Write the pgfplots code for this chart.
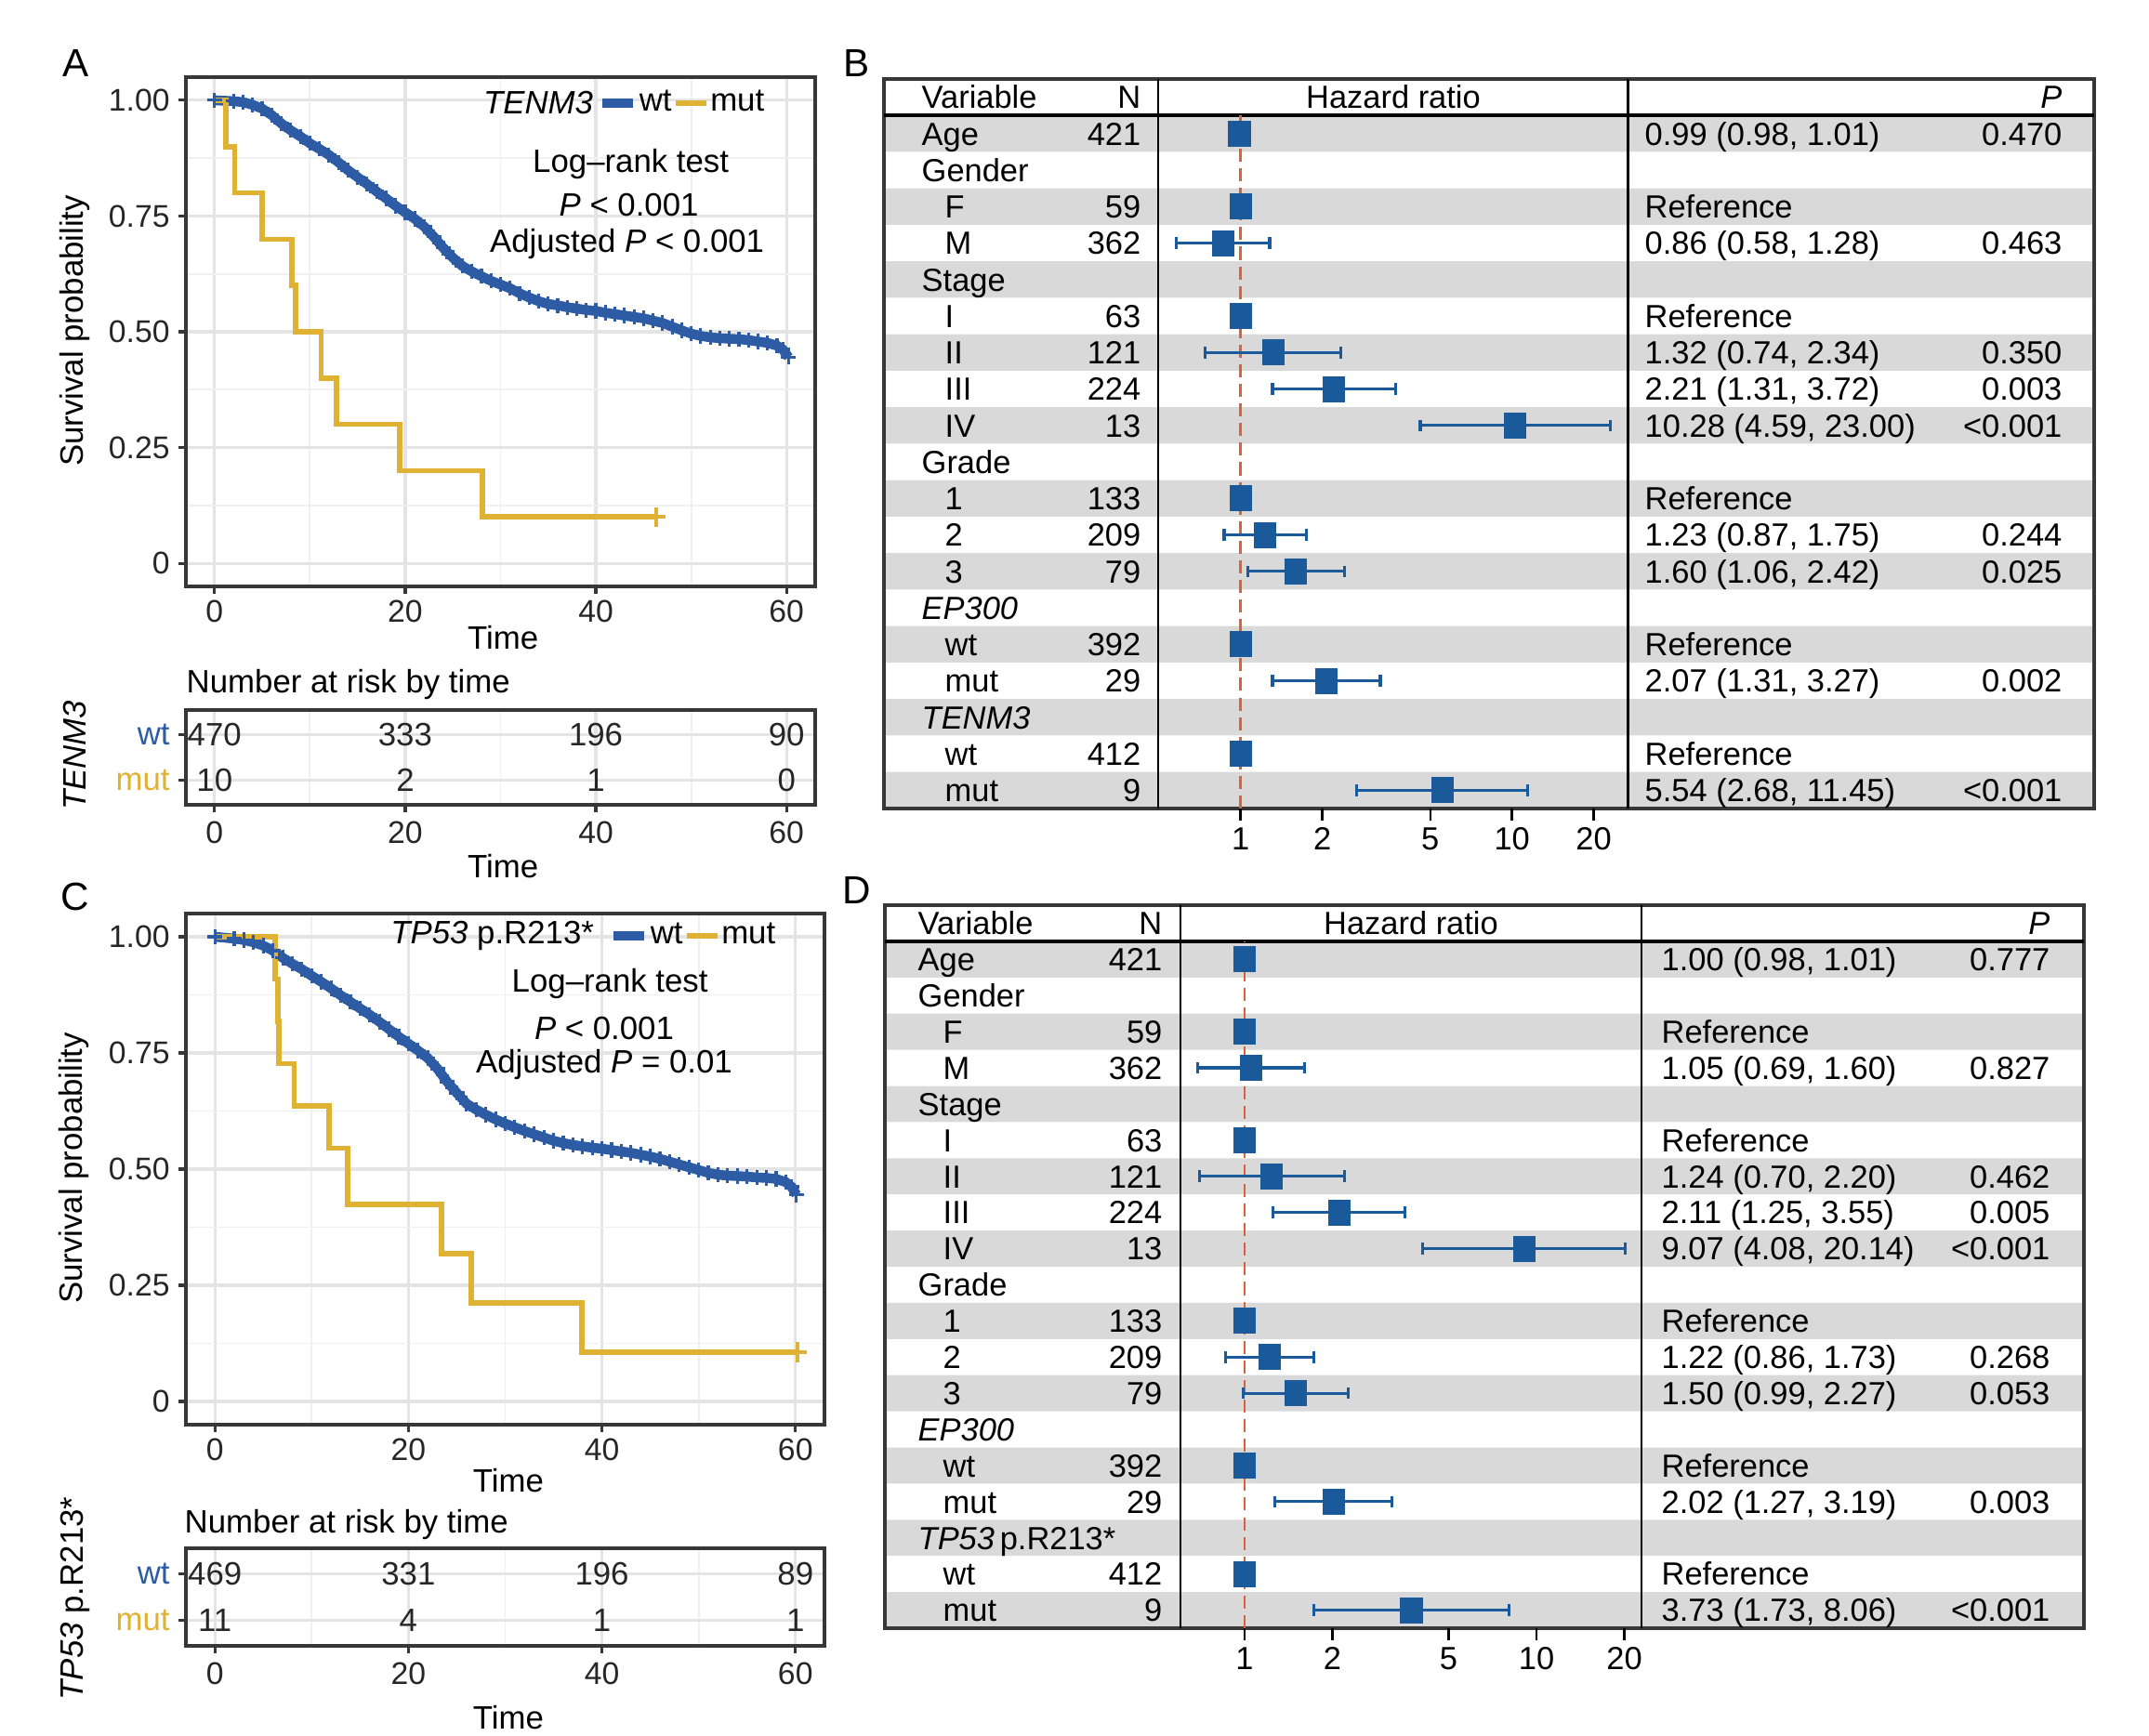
\documentclass[border=0pt]{standalone}
\usepackage{fontspec}
\setmainfont{Liberation Sans}
\usepackage{pgfplots}
\pgfplotsset{compat=1.18}

\definecolor{wtblue}{RGB}{45,92,165}
\definecolor{mutgold}{RGB}{224,178,52}
\definecolor{fpblue}{RGB}{26,90,155}
\definecolor{band}{RGB}{217,217,217}
\definecolor{refred}{RGB}{218,98,56}
\definecolor{gridc}{RGB}{228,228,228}
\definecolor{framec}{RGB}{55,55,55}

\newcommand{\fs}{\fontsize{9.9}{12}\selectfont}
\newcommand{\fk}{\fontsize{9.6}{11.5}\selectfont}
\newcommand{\ft}{\fontsize{9.8}{11.8}\selectfont}

\tikzset{cell/.style={font=\ft, inner sep=0pt, text height=7pt, text depth=0pt}}

\pgfplotsset{
  kmbase/.style={
    scale only axis, anchor=north west,
    xmin=-3, xmax=63,
    xtick={0,20,40,60}, xticklabels={0,20,40,60},
    minor xtick={10,30,50},
    grid=both,
    major grid style={draw=gridc, line width=0.9pt},
    minor grid style={draw=gridc!55, line width=0.5pt},
    axis line style={draw=framec, line width=1pt},
    tick align=outside, tick pos=left,
    major tick length=0.8mm, minor tick length=0pt,
    tick style={framec, line width=0.9pt},
    tick label style={font=\fk, text=black!85},
    yticklabel style={xshift=0.3mm},
    label style={font=\fs},
  },
  km/.style={kmbase,
    ymin=-0.05, ymax=1.05,
    ytick={0,0.25,0.5,0.75,1}, yticklabels={0,0.25,0.50,0.75,1.00},
    minor ytick={0.125,0.375,0.625,0.875},
    xticklabel style={yshift=0.55mm},
    xlabel={Time}, ylabel={Survival probability},
    legend image code/.code={\draw[#1] (0mm,0mm) -- (3.3mm,0mm);},
  },
  risk/.style={kmbase,
    ymin=0.45, ymax=2.55, ytick={1,2},
    yticklabels={\textcolor{mutgold}{mut},\textcolor{wtblue}{wt}},
    yticklabel style={font=\fs},
    xticklabel style={yshift=0.2mm},
    xlabel={Time},
  },
  tabaxis/.style={scale only axis, anchor=north west, ymin=0, ymax=20, hide axis, clip=false},
  fpaxis/.style={scale only axis, anchor=north west, ymin=0, ymax=20, clip=false,
    axis line style={draw=none}, ytick=\empty, xtick={1,2,5,10,20}, xticklabels={1,2,5,10,20},
    minor tick length=0pt, xtick pos=left, tick align=outside, major tick length=1.3mm,
    tick style={black, line width=0.7pt}, xticklabel style={font=\ft, yshift=0.5mm}},
  ci/.style={fpblue, line width=0.9pt, mark=|, mark size=1.8pt, mark options={solid, line width=0.9pt}},
  sq/.style={only marks, mark=square*, mark size=3.8pt, mark options={fill=fpblue, draw=fpblue, xscale=0.85}},
  refl/.style={refred, line width=0.7pt, dash pattern=on 4pt off 2pt},
  lg/.style={draw=none, fill=none, anchor=west, legend columns=2, font=\fs, inner sep=0pt,
    nodes={inner sep=0.15mm}},
  wtline/.style={wtblue, line width=3pt, mark=+, mark size=2.3pt, mark options={line width=0.9pt}},
}

\newcommand{\Row}[6]{%
  \node[cell, anchor=west] at (axis cs:#2,#1) {#3};
  \node[cell, anchor=east] at (axis cs:\cN,#1) {#4};
  \node[cell, anchor=west] at (axis cs:\cH,#1) {#5};
  \node[cell, anchor=east] at (axis cs:\cP,#1) {#6};}
\newcommand{\TabFrame}{%
  \draw[framec, line width=1pt] (axis cs:0,0) rectangle (axis cs:\W,20);
  \draw[black, line width=1pt] (axis cs:0,19) -- (axis cs:\W,19);
  \draw[black, line width=0.6pt] (axis cs:\sA,0) -- (axis cs:\sA,20);
  \draw[black, line width=0.6pt] (axis cs:\sB,0) -- (axis cs:\sB,20);
  \node[cell, anchor=west] at (axis cs:\cV,19.5) {Variable};
  \node[cell, anchor=east] at (axis cs:\cN,19.5) {N};
  \node[cell, anchor=center] at (axis cs:\cHc,19.5) {Hazard ratio};
  \node[cell, anchor=east] at (axis cs:\cP,19.5) {\textit{P}};}

\begin{document}
\begin{tikzpicture}
\path[use as bounding box] (0,0) rectangle (231.2mm,-186.8mm);

% ---------------- Panel A: KM ----------------
\begin{axis}[km, at={(20mm,-8.3mm)}, width=67.7mm, height=54.8mm,
  xlabel style={at={(rel axis cs:0.504,-0.0996)}, anchor=center},
  ylabel style={at={(rel axis cs:-0.177,0.502)}, anchor=center},
  legend style={lg, at={(rel axis cs:0.653,0.949)}}]
\addplot[wtline] coordinates {
(0,1.000) (2,0.998) (3,0.996) (4,0.990) (5,0.982) (6,0.968) (7,0.950) (8,0.935) (9,0.922) (10,0.907)
(11,0.895) (12,0.882) (13,0.866) (14,0.849) (15,0.834) (16,0.819) (17,0.803) (18,0.788) (19,0.772) (20,0.758)
(21,0.744) (22,0.727) (23,0.705) (24,0.681) (25,0.660) (26,0.642) (27,0.630) (28,0.620) (29,0.610) (30,0.602)
(31,0.594) (32,0.583) (33,0.574) (34,0.566) (35,0.560) (36,0.557) (37,0.553) (38,0.550) (39,0.547) (40,0.545)
(41,0.541) (42,0.538) (43,0.535) (44,0.532) (45,0.529) (46,0.524) (47,0.519) (48,0.511) (49,0.503) (50,0.496)
(51,0.491) (52,0.488) (53,0.486) (54,0.485) (55,0.484) (56,0.482) (57,0.479) (58,0.476) (59,0.470) (59.6,0.462) (60.2,0.445)};
\addlegendentry{wt}
\addplot[mutgold, line width=1.6pt, const plot] coordinates {
(0,1) (1.2,0.9) (2.1,0.8) (5.0,0.7) (8.1,0.6) (8.5,0.5) (11.2,0.4) (12.8,0.3) (19.4,0.2) (28.1,0.1) (46.3,0.1)};
\addlegendentry{mut}
\addplot[forget plot, only marks, mark=+, mark size=3pt, mutgold, line width=1.2pt] coordinates {(46.3,0.1)};
\node[font=\fs\itshape, anchor=east, inner sep=0pt] at (rel axis cs:0.648,0.949) {TENM3};
\node[font=\fs] at (rel axis cs:0.707,0.830) {Log\textendash rank test};
\node[font=\fs] at (rel axis cs:0.704,0.749) {\textit{P} < 0.001};
\node[font=\fs] at (rel axis cs:0.701,0.672) {Adjusted \textit{P} < 0.001};
\end{axis}

% ---------------- Panel A: risk table ----------------
\begin{axis}[risk, at={(20mm,-76.4mm)}, width=67.7mm, height=10.2mm,
  xlabel style={at={(rel axis cs:0.504,-0.647)}, anchor=center}]
\addplot[only marks, mark=none, nodes near coords, point meta=explicit symbolic,
  every node near coord/.append style={font=\fs, anchor=center, text=black!85}] coordinates {
(0,2) [470] (20,2) [333] (40,2) [196] (60,2) [90]
(0,1) [10] (20,1) [2] (40,1) [1] (60,1) [0]};
\end{axis}
\node[font=\fs, anchor=west, inner sep=0pt] at (20mm,-73.7mm) {Number at risk by time};
\node[font=\fs\itshape, rotate=90] at (8.1mm,-81.3mm) {TENM3};

% ---------------- Panel C: KM ----------------
\begin{axis}[km, at={(20mm,-98.3mm)}, width=68.7mm, height=55.0mm,
  xlabel style={at={(rel axis cs:0.505,-0.109)}, anchor=center},
  ylabel style={at={(rel axis cs:-0.175,0.502)}, anchor=center},
  legend style={lg, at={(rel axis cs:0.661,0.956)}}]
\addplot[wtline] coordinates {
(0,1.000) (2,0.996) (3,0.993) (4,0.988) (5,0.981) (6,0.970) (7,0.955) (8,0.942) (9,0.930) (10,0.916)
(11,0.903) (12,0.889) (13,0.874) (14,0.860) (15,0.846) (16,0.832) (17,0.817) (18,0.801) (19,0.785) (20,0.770)
(21,0.755) (22,0.739) (23,0.716) (24,0.688) (25,0.664) (26,0.641) (27,0.628) (28,0.617) (29,0.607) (30,0.598)
(31,0.590) (32,0.582) (33,0.575) (34,0.568) (35,0.561) (36,0.556) (37,0.552) (38,0.549) (39,0.546) (40,0.544)
(41,0.541) (42,0.538) (43,0.535) (44,0.531) (45,0.527) (46,0.522) (47,0.516) (48,0.510) (49,0.504) (50,0.498)
(51,0.492) (52,0.488) (53,0.486) (54,0.485) (55,0.484) (56,0.482) (57,0.481) (58,0.479) (59,0.472) (59.6,0.462) (60.1,0.445)};
\addlegendentry{wt}
\addplot[mutgold, line width=1.6pt, const plot] coordinates {
(0,1) (6.2,0.909) (6.5,0.818) (6.6,0.727) (8.2,0.636) (11.8,0.545) (13.7,0.424) (23.4,0.318) (26.5,0.212) (37.9,0.106) (60.2,0.106)};
\addlegendentry{mut}
\addplot[forget plot, only marks, mark=+, mark size=3pt, mutgold, line width=1.2pt] coordinates {(60.2,0.106)};
\node[font=\fs, anchor=east, inner sep=0pt] at (rel axis cs:0.640,0.956) {\textit{TP53} p.R213*};
\node[font=\fs] at (rel axis cs:0.664,0.862) {Log\textendash rank test};
\node[font=\fs] at (rel axis cs:0.655,0.776) {\textit{P} < 0.001};
\node[font=\fs] at (rel axis cs:0.655,0.704) {Adjusted \textit{P} = 0.01};
\end{axis}

% ---------------- Panel C: risk table ----------------
\begin{axis}[risk, at={(20mm,-166.6mm)}, width=68.7mm, height=10.5mm,
  xlabel style={at={(rel axis cs:0.505,-0.733)}, anchor=center}]
\addplot[only marks, mark=none, nodes near coords, point meta=explicit symbolic,
  every node near coord/.append style={font=\fs, anchor=center, text=black!85}] coordinates {
(0,2) [469] (20,2) [331] (40,2) [196] (60,2) [89]
(0,1) [11] (20,1) [4] (40,1) [1] (60,1) [1]};
\end{axis}
\node[font=\fs, anchor=west, inner sep=0pt] at (19.8mm,-164.0mm) {Number at risk by time};
\node[font=\fs, rotate=90] at (8.1mm,-172.0mm) {\textit{TP53} p.R213*};

% ---------------- Panel B: forest table ----------------
\def\W{1302}\def\cV{40}\def\cS{65}\def\cN{277}\def\sA{295}\def\sB{800.5}\def\cHc{548}\def\cH{818}\def\cP{1268}
\begin{axis}[tabaxis, at={(95.1mm,-8.5mm)}, width=130.2mm, height=78.5mm, xmin=0, xmax=1302]
\addplot[xbar, bar width=1, fill=band, draw=none] coordinates {(1302,0.5) (1302,2.5) (1302,4.5) (1302,6.5) (1302,8.5) (1302,10.5) (1302,12.5) (1302,14.5) (1302,16.5) (1302,18.5)};
\TabFrame
\Row{18.5}{\cV}{Age}{421}{0.99 (0.98, 1.01)}{0.470}
\Row{17.5}{\cV}{Gender}{}{}{}
\Row{16.5}{\cS}{F}{59}{Reference}{}
\Row{15.5}{\cS}{M}{362}{0.86 (0.58, 1.28)}{0.463}
\Row{14.5}{\cV}{Stage}{}{}{}
\Row{13.5}{\cS}{I}{63}{Reference}{}
\Row{12.5}{\cS}{II}{121}{1.32 (0.74, 2.34)}{0.350}
\Row{11.5}{\cS}{III}{224}{2.21 (1.31, 3.72)}{0.003}
\Row{10.5}{\cS}{IV}{13}{10.28 (4.59, 23.00)}{<0.001}
\Row{9.5}{\cV}{Grade}{}{}{}
\Row{8.5}{\cS}{1}{133}{Reference}{}
\Row{7.5}{\cS}{2}{209}{1.23 (0.87, 1.75)}{0.244}
\Row{6.5}{\cS}{3}{79}{1.60 (1.06, 2.42)}{0.025}
\Row{5.5}{\cV}{\textit{EP300}}{}{}{}
\Row{4.5}{\cS}{wt}{392}{Reference}{}
\Row{3.5}{\cS}{mut}{29}{2.07 (1.31, 3.27)}{0.002}
\Row{2.5}{\cV}{\textit{TENM3}}{}{}{}
\Row{1.5}{\cS}{wt}{412}{Reference}{}
\Row{0.5}{\cS}{mut}{9}{5.54 (2.68, 11.45)}{<0.001}
\end{axis}
\begin{axis}[xmode=log, fpaxis, at={(124.6mm,-8.5mm)}, width=50.55mm, height=78.5mm, xmin=0.4968, xmax=26.76]
\addplot[refl] coordinates {(1,0) (1,19)};
\addplot[ci] coordinates {(0.98,18.5) (1.01,18.5)};
\addplot[ci] coordinates {(0.58,15.5) (1.28,15.5)};
\addplot[ci] coordinates {(0.74,12.5) (2.34,12.5)};
\addplot[ci] coordinates {(1.31,11.5) (3.72,11.5)};
\addplot[ci] coordinates {(4.59,10.5) (23.00,10.5)};
\addplot[ci] coordinates {(0.87,7.5) (1.75,7.5)};
\addplot[ci] coordinates {(1.06,6.5) (2.42,6.5)};
\addplot[ci] coordinates {(1.31,3.5) (3.27,3.5)};
\addplot[ci] coordinates {(2.68,0.5) (11.45,0.5)};
\addplot[sq] coordinates {(0.99,18.5) (1,16.5) (0.86,15.5) (1,13.5) (1.32,12.5) (2.21,11.5) (10.28,10.5) (1,8.5) (1.23,7.5) (1.60,6.5) (1,4.5) (2.07,3.5) (1,1.5) (5.54,0.5)};
\end{axis}

% ---------------- Panel D: forest table ----------------
\def\W{1290}\def\cV{35}\def\cS{62}\def\cN{299}\def\sA{318}\def\sB{814}\def\cHc{566}\def\cH{835}\def\cP{1254}
\begin{axis}[tabaxis, at={(95.2mm,-97.4mm)}, width=129.0mm, height=77.8mm, xmin=0, xmax=1290]
\addplot[xbar, bar width=1, fill=band, draw=none] coordinates {(1290,0.5) (1290,2.5) (1290,4.5) (1290,6.5) (1290,8.5) (1290,10.5) (1290,12.5) (1290,14.5) (1290,16.5) (1290,18.5)};
\TabFrame
\Row{18.5}{\cV}{Age}{421}{1.00 (0.98, 1.01)}{0.777}
\Row{17.5}{\cV}{Gender}{}{}{}
\Row{16.5}{\cS}{F}{59}{Reference}{}
\Row{15.5}{\cS}{M}{362}{1.05 (0.69, 1.60)}{0.827}
\Row{14.5}{\cV}{Stage}{}{}{}
\Row{13.5}{\cS}{I}{63}{Reference}{}
\Row{12.5}{\cS}{II}{121}{1.24 (0.70, 2.20)}{0.462}
\Row{11.5}{\cS}{III}{224}{2.11 (1.25, 3.55)}{0.005}
\Row{10.5}{\cS}{IV}{13}{9.07 (4.08, 20.14)}{<0.001}
\Row{9.5}{\cV}{Grade}{}{}{}
\Row{8.5}{\cS}{1}{133}{Reference}{}
\Row{7.5}{\cS}{2}{209}{1.22 (0.86, 1.73)}{0.268}
\Row{6.5}{\cS}{3}{79}{1.50 (0.99, 2.27)}{0.053}
\Row{5.5}{\cV}{\textit{EP300}}{}{}{}
\Row{4.5}{\cS}{wt}{392}{Reference}{}
\Row{3.5}{\cS}{mut}{29}{2.02 (1.27, 3.19)}{0.003}
\Row{2.5}{\cV}{\textit{TP53}\,p.R213*}{}{}{}
\Row{1.5}{\cS}{wt}{412}{Reference}{}
\Row{0.5}{\cS}{mut}{9}{3.73 (1.73, 8.06)}{<0.001}
\end{axis}
\begin{axis}[xmode=log, fpaxis, at={(127.0mm,-97.4mm)}, width=49.6mm, height=77.8mm, xmin=0.603, xmax=22.9]
\addplot[refl] coordinates {(1,0) (1,19)};
\addplot[ci] coordinates {(0.98,18.5) (1.01,18.5)};
\addplot[ci] coordinates {(0.69,15.5) (1.60,15.5)};
\addplot[ci] coordinates {(0.70,12.5) (2.20,12.5)};
\addplot[ci] coordinates {(1.25,11.5) (3.55,11.5)};
\addplot[ci] coordinates {(4.08,10.5) (20.14,10.5)};
\addplot[ci] coordinates {(0.86,7.5) (1.73,7.5)};
\addplot[ci] coordinates {(0.99,6.5) (2.27,6.5)};
\addplot[ci] coordinates {(1.27,3.5) (3.19,3.5)};
\addplot[ci] coordinates {(1.73,0.5) (8.06,0.5)};
\addplot[sq] coordinates {(1.00,18.5) (1,16.5) (1.05,15.5) (1,13.5) (1.24,12.5) (2.11,11.5) (9.07,10.5) (1,8.5) (1.22,7.5) (1.50,6.5) (1,4.5) (2.02,3.5) (1,1.5) (3.73,0.5)};
\end{axis}

% ---------------- Panel letters ----------------
\node[font=\fontsize{12}{14}\selectfont] at (8.2mm,-6.8mm) {A};
\node[font=\fontsize{12}{14}\selectfont] at (92.2mm,-6.8mm) {B};
\node[font=\fontsize{12}{14}\selectfont] at (8.1mm,-96.5mm) {C};
\node[font=\fontsize{12}{14}\selectfont] at (92.2mm,-95.8mm) {D};
\end{tikzpicture}
\end{document}
